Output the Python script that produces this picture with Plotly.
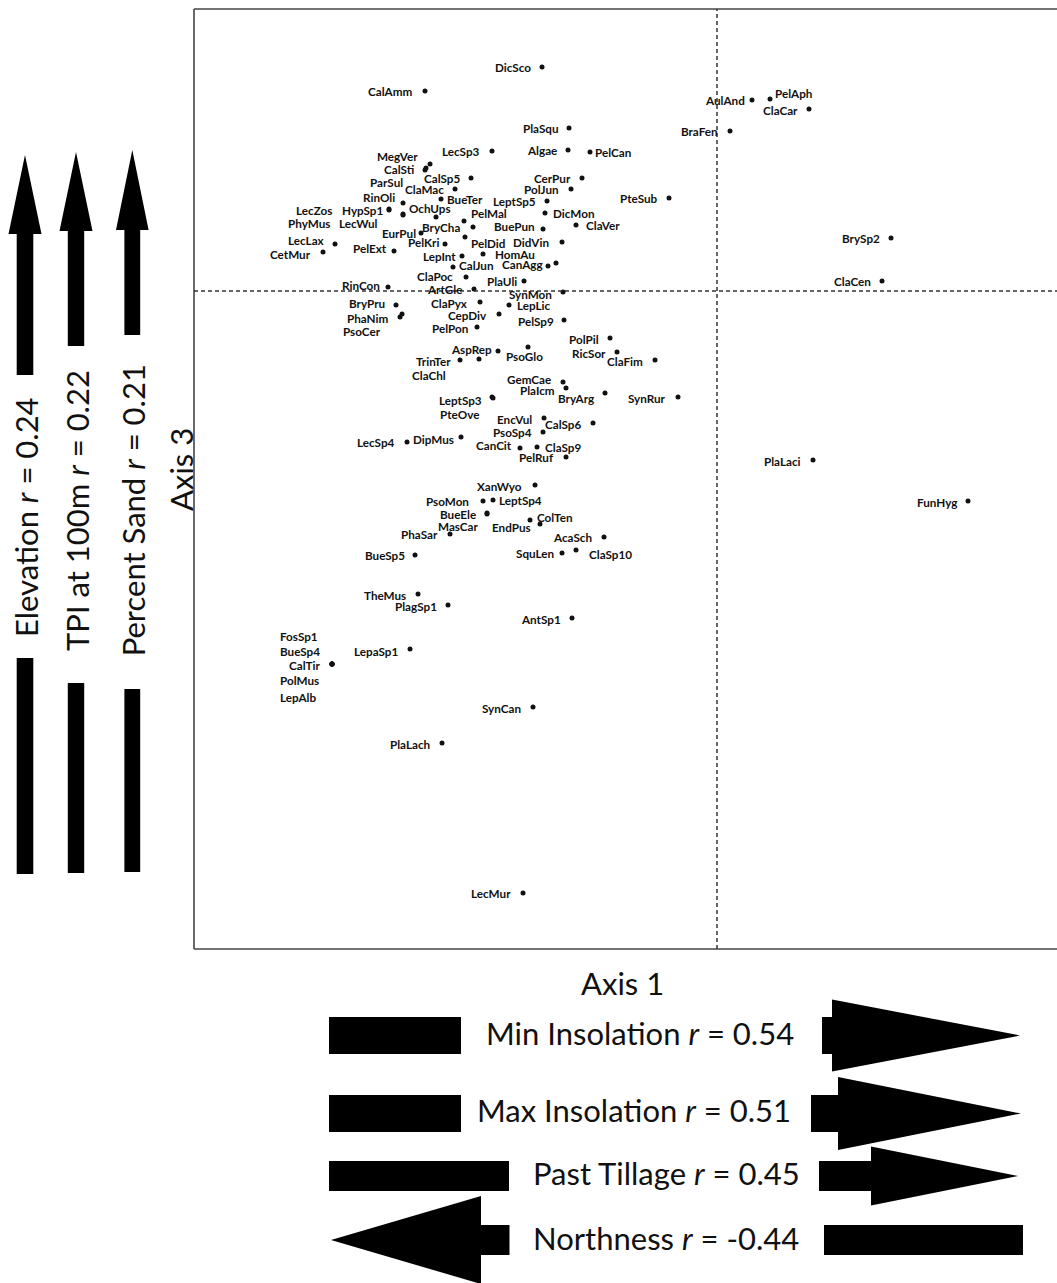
import plotly.graph_objects as go

W, H = 1057, 1283

# ---- species scores on ordination axes 1 and 3 ----
species = [
    "DicSco", "CalAmm", "PlaSqu", "LecSp3", "Algae", "PelCan", "AulAnd", "PelAph",
    "ClaCar", "BraFen", "PteSub", "BrySp2", "ClaCen", "MegVer", "CalSti", "ParSul",
    "ClaMac", "CalSp5", "BueTer", "RinOli", "OchUps", "HypSp1", "LecZos", "PhyMus",
    "LecWul", "EurPul", "BryCha", "PelMal", "PelKri", "PelDid", "CerPur", "PolJun",
    "LeptSp5", "DicMon", "ClaVer", "BuePun", "DidVin", "HomAu", "LepInt", "CalJun",
    "CanAgg", "", "LecLax", "CetMur", "PelExt", "ClaPoc", "PlaUli", "RinCon",
    "ArtGle", "SynMon", "BryPru", "PhaNim", "PsoCer", "ClaPyx", "LepLic", "CepDiv",
    "PelSp9", "PelPon", "PolPil", "AspRep", "PsoGlo", "RicSor", "ClaFim", "TrinTer",
    "ClaChl", "GemCae", "PlaIcm", "BryArg", "SynRur", "LeptSp3", "PteOve", "EncVul",
    "CalSp6", "PsoSp4", "LecSp4", "DipMus", "CanCit", "ClaSp9", "PelRuf", "XanWyo",
    "PsoMon", "LeptSp4", "BueEle", "MasCar", "ColTen", "EndPus", "PhaSar", "AcaSch",
    "SquLen", "ClaSp10", "BueSp5", "TheMus", "PlagSp1", "AntSp1", "LepaSp1", "CalTir",
    "FosSp1", "BueSp4", "PolMus", "LepAlb", "SynCan", "PlaLach", "LecMur", "PlaLaci",
    "FunHyg",
]
axis1 = [
    -1.75, -2.92, -1.48, -2.25, -1.49, -1.27, 0.35, 0.53,
    0.92, 0.13, -0.48, 1.74, 1.65, -2.87, -2.91, -2.92,
    -2.62, -2.46, -2.76, -3.14, -3.14, -3.28, -3.28, -3.14,
    -2.81, -2.96, -2.44, -2.53, -2.72, -2.52, -1.35, -1.46,
    -1.70, -1.72, -1.41, -1.74, -1.55, -2.34, -2.55, -2.64,
    -1.69, -1.61, -3.82, -3.94, -3.23, -2.51, -1.93, -3.29,
    -2.43, -1.54, -3.21, -3.15, -3.17, -2.37, -2.08, -2.18,
    -1.53, -2.40, -1.07, -2.19, -1.89, -1.00, -0.62, -2.57,
    -2.38, -1.54, -1.51, -1.12, -0.39, -2.25, -2.24, -1.73,
    -1.24, -1.74, -3.10, -2.56, -1.97, -1.80, -1.51, -1.82,
    -2.34, -2.24, -2.30, -2.30, -1.87, -1.77, -2.67, -1.13,
    -1.55, -1.41, -3.02, -2.99, -2.69, -1.45, -3.07, -3.85,
    -3.85, -3.85, -3.85, -3.85, -1.84, -2.75, -1.94, 0.96,
    2.51,
]
axis3 = [
    2.24, 2.00, 1.63, 1.40, 1.41, 1.39, 1.91, 1.92,
    1.82, 1.60, 0.93, 0.53, 0.10, 1.27, 1.23, 1.21,
    1.02, 1.13, 0.92, 0.88, 0.77, 0.82, 0.81, 0.76,
    0.74, 0.58, 0.64, 0.70, 0.47, 0.54, 1.13, 1.02,
    0.90, 0.78, 0.66, 0.62, 0.49, 0.37, 0.35, 0.24,
    0.25, 0.28, 0.47, 0.39, 0.40, 0.14, 0.10, 0.04,
    0.02, -0.01, -0.14, -0.23, -0.26, -0.11, -0.14, -0.23,
    -0.29, -0.36, -0.47, -0.60, -0.56, -0.61, -0.69, -0.69,
    -0.68, -0.91, -0.97, -1.02, -1.06, -1.06, -1.07, -1.27,
    -1.32, -1.41, -1.51, -1.46, -1.57, -1.56, -1.66, -1.94,
    -2.10, -2.09, -2.22, -2.23, -2.29, -2.33, -2.43, -2.46,
    -2.62, -2.59, -2.64, -3.03, -3.14, -3.27, -3.58, -3.73,
    -3.73, -3.73, -3.73, -3.73, -4.16, -4.52, -6.02, -1.69,
    -2.10,
]

# ---- environmental vectors fitted to the ordination ----
vert_vars = ["Elevation", "TPI at 100m", "Percent Sand"]
vert_r = [0.24, 0.22, 0.21]
horz_vars = ["Min Insolation", "Max Insolation", "Past Tillage", "Northness"]
horz_r = [0.54, 0.51, 0.45, -0.44]

# label placement: side of the point ('l' = text ends left of the dot,
# 'r' = text starts at the offset), x offset and downward y offset in px
label_place = {
    "DicSco": ("l", -10, 0), "CalAmm": ("l", -12, 0), "PlaSqu": ("l", -9, 0),
    "LecSp3": ("l", -11, 0), "Algae": ("l", -10, 0), "PelCan": ("r", 4, 0),
    "AulAnd": ("l", -6, 0), "PelAph": ("r", 4, -6), "ClaCar": ("l", -10, 1),
    "BraFen": ("l", -11, 0), "PteSub": ("l", -10, 0), "BrySp2": ("l", -10, 0),
    "ClaCen": ("l", -10, 0), "MegVer": ("l", -11, -8), "CalSti": ("l", -10, 1),
    "ParSul": ("l", -21, 12), "ClaMac": ("l", -10, 0), "CalSp5": ("l", -10, 0),
    "BueTer": ("r", 5, 0), "RinOli": ("l", -7, -6), "OchUps": ("r", 5, -6),
    "HypSp1": ("l", -5, 1), "LecZos": ("l", -56, 0), "PhyMus": ("l", -72, 8),
    "LecWul": ("l", -57, 6), "EurPul": ("l", -4, 0), "BryCha": ("l", -12, 0),
    "PelMal": ("r", 6, -8), "PelKri": ("l", -5, -2), "PelDid": ("r", 5, 6),
    "CerPur": ("l", -10, 0), "PolJun": ("l", -11, 0), "LeptSp5": ("l", -10, 0),
    "DicMon": ("r", 7, 0), "ClaVer": ("r", 9, 0), "BuePun": ("l", -7, -3),
    "DidVin": ("l", -12, 0), "HomAu": ("r", 11, 0), "LepInt": ("l", -5, 0),
    "CalJun": ("r", 5, -2), "CanAgg": ("l", -4, -2), "LecLax": ("l", -9, -4),
    "CetMur": ("l", -11, 2), "PelExt": ("l", -6, -3), "ClaPoc": ("l", -12, -1),
    "PlaUli": ("l", -6, 0), "RinCon": ("l", -7, -2), "ArtGle": ("l", -11, 0),
    "SynMon": ("l", -10, 2), "BryPru": ("l", -10, -2), "PhaNim": ("l", -12, 4),
    "PsoCer": ("l", -18, 14), "ClaPyx": ("l", -11, 1), "LepLic": ("r", 7, 0),
    "CepDiv": ("l", -11, 1), "PelSp9": ("l", -9, 1), "PelPon": ("l", -8, 1),
    "PolPil": ("l", -10, 1), "AspRep": ("l", -5, -2), "PsoGlo": ("r", -23, 9),
    "RicSor": ("l", -10, 1), "ClaFim": ("l", -11, 1), "TrinTer": ("l", -8, 1),
    "ClaChl": ("l", -32, 16), "GemCae": ("l", -11, -3), "PlaIcm": ("l", -10, 2),
    "BryArg": ("r", -48, 5), "SynRur": ("l", -11, 1), "LeptSp3": ("l", -9, 3),
    "PteOve": ("l", -13, 16), "EncVul": ("l", -11, 1), "CalSp6": ("l", -11, 1),
    "PsoSp4": ("l", -10, 0), "LecSp4": ("l", -11, 0), "DipMus": ("l", -6, 2),
    "CanCit": ("l", -7, -3), "ClaSp9": ("r", 7, 0), "PelRuf": ("l", -11, 0),
    "XanWyo": ("l", -12, 1), "PsoMon": ("l", -13, 0), "LeptSp4": ("r", 5, 0),
    "BueEle": ("l", -10, 1), "MasCar": ("l", -7, 12), "ColTen": ("r", 6, -3),
    "EndPus": ("l", -8, 3), "PhaSar": ("l", -11, 0), "AcaSch": ("l", -11, 0),
    "SquLen": ("l", -7, 0), "ClaSp10": ("r", 12, 4), "BueSp5": ("l", -9, 0),
    "TheMus": ("l", -11, 1), "PlagSp1": ("l", -10, 1), "AntSp1": ("l", -10, 1),
    "LepaSp1": ("l", -11, 2), "CalTir": ("l", -11, 1), "FosSp1": ("r", -53, -28),
    "BueSp4": ("r", -53, -13), "PolMus": ("r", -53, 16), "LepAlb": ("r", -53, 33),
    "SynCan": ("l", -11, 1), "PlaLach": ("l", -11, 1), "LecMur": ("l", -11, 0),
    "PlaLaci": ("l", -11, 1), "FunHyg": ("l", -10, 1),
}

LABEL_FONT = dict(family="Lato", size=11.7, color="#111111", weight="bold")
BIG_FONT = dict(family="Lato", size=31, color="#111111")

# plot frame in pixels
PX_L, PX_T, PX_B = 194, 9, 949
X_RANGE = [-5.23, 3.40]
Y_RANGE = [-6.58, 2.82]


def pap(x, y):
    return x / W, 1 - y / H


def path(points):
    return "M " + " L ".join(f"{x / W:.5f},{1 - y / H:.5f}" for x, y in points) + " Z"


fig = go.Figure()
fig.add_trace(go.Scatter(
    x=axis1, y=axis3, mode="markers",
    marker=dict(size=5, color="#111111"),
    hovertext=species, hoverinfo="text", cliponaxis=False, showlegend=False,
))

annotations = []
for name, x, y in zip(species, axis1, axis3):
    if not name:
        continue
    side, dx, dy = label_place[name]
    annotations.append(dict(
        x=x, y=y, xref="x", yref="y", text=name, showarrow=False,
        xanchor="right" if side == "l" else "left", yanchor="middle",
        xshift=dx, yshift=-dy, font=LABEL_FONT, borderpad=0,
    ))

shapes = []
# frame (left, top, bottom)
fx0, fy_top = pap(PX_L, PX_T)
_, fy_bot = pap(PX_L, PX_B)
frame = dict(color="#444444", width=1.6)
shapes += [
    dict(type="line", xref="paper", yref="paper", x0=fx0, x1=fx0, y0=fy_bot, y1=fy_top, line=frame),
    dict(type="line", xref="paper", yref="paper", x0=fx0, x1=1, y0=fy_top, y1=fy_top, line=frame),
    dict(type="line", xref="paper", yref="paper", x0=fx0, x1=1, y0=fy_bot, y1=fy_bot, line=frame),
]
# origin cross-hairs
dash = dict(color="#333333", width=1.5, dash="4px,3px")
shapes += [
    dict(type="line", xref="x", yref="y domain", x0=0, x1=0, y0=0, y1=1, line=dash),
    dict(type="line", xref="x domain", yref="y", x0=0, x1=1, y0=0, y1=0, line=dash),
]

blk = dict(fillcolor="#000000", line=dict(width=0), xref="paper", yref="paper", type="path")

# vertical vectors (axis 3): arrow on the side given by the sign of r
vert_geom = [
    # cx, tip, head base, head half-width, shaft half-width, shaft end, bar start, bar end, text y
    (25.0, 155, 234, 16.5, 8.3, 375, 658, 874, 517),
    (76.0, 152, 231, 16.5, 8.2, 346, 683, 873, 511),
    (132.3, 150, 230, 16.3, 7.9, 335, 689, 872, 510),
]
for var, r, (cx, tip, hb, hw, sw, se, b0, b1, ty) in zip(vert_vars, vert_r, vert_geom):
    if r >= 0:
        arrow = [(cx, tip), (cx + hw, hb), (cx + sw, hb), (cx + sw, se),
                 (cx - sw, se), (cx - sw, hb), (cx - hw, hb)]
        bar = [(cx - sw, b0), (cx + sw, b0), (cx + sw, b1), (cx - sw, b1)]
    else:
        arrow = [(cx, 2 * ty - tip), (cx + hw, 2 * ty - hb), (cx + sw, 2 * ty - hb),
                 (cx + sw, 2 * ty - se), (cx - sw, 2 * ty - se), (cx - sw, 2 * ty - hb),
                 (cx - hw, 2 * ty - hb)]
        bar = [(cx - sw, 2 * ty - b0), (cx + sw, 2 * ty - b0),
               (cx + sw, 2 * ty - b1), (cx - sw, 2 * ty - b1)]
    shapes.append(dict(path=path(arrow), **blk))
    shapes.append(dict(path=path(bar), **blk))
    tx, tyy = pap(cx + 1, ty)
    annotations.append(dict(
        x=tx, y=tyy, xref="paper", yref="paper", showarrow=False, textangle=-90,
        text=f"{var} <i>r</i> = {r:.2f}", font=BIG_FONT, xanchor="center", yanchor="middle",
    ))

# horizontal vectors (axis 1)
horz_geom = [
    # cy, half bar, left span, right span, head base offset, head half-height, text x, text y
    (1035.5, 18.5, (329, 461), (822, 1020), 10, 36, 640, 1033),
    (1113.5, 18.5, (329, 461), (811, 1021), 27, 36.5, 634, 1110),
    (1176, 15, (329, 509), (819, 1018), 52, 29.5, 666, 1173),
    (1240, 15, (331, 509.5), (824, 1023), 28.5, 44, 666, 1238),
]
for var, r, (cy, sh, (l0, l1), (r0, r1), hoff, hh, tx, ty) in zip(horz_vars, horz_r, horz_geom):
    if r >= 0:
        bar = [(l0, cy - sh), (l1, cy - sh), (l1, cy + sh), (l0, cy + sh)]
        hb = r0 + hoff
        arrow = [(r0, cy - sh), (hb, cy - sh), (hb, cy - hh), (r1, cy),
                 (hb, cy + hh), (hb, cy + sh), (r0, cy + sh)]
    else:
        bar = [(r0, cy - sh), (r1, cy - sh), (r1, cy + sh), (r0, cy + sh)]
        hb = l1 - hoff
        arrow = [(l0, cy), (hb, cy - hh), (hb, cy - sh), (l1, cy - sh),
                 (l1, cy + sh), (hb, cy + sh), (hb, cy + hh)]
    shapes.append(dict(path=path(bar), **blk))
    shapes.append(dict(path=path(arrow), **blk))
    px_, py_ = pap(tx, ty)
    annotations.append(dict(
        x=px_, y=py_, xref="paper", yref="paper", showarrow=False,
        text=f"{var} <i>r</i> = {r:.2f}", font=BIG_FONT, xanchor="center", yanchor="middle",
    ))

# axis titles
ax1x, ax1y = pap(622, 983)
ax3x, ax3y = pap(181, 470)
annotations += [
    dict(x=ax1x, y=ax1y, xref="paper", yref="paper", text="Axis 1", showarrow=False,
         font=BIG_FONT, xanchor="center", yanchor="middle"),
    dict(x=ax3x, y=ax3y, xref="paper", yref="paper", text="Axis 3", showarrow=False,
         font=BIG_FONT, xanchor="center", yanchor="middle", textangle=-90),
]

axis_common = dict(showgrid=False, zeroline=False, showticklabels=False, ticks="",
                   showline=False, fixedrange=True)
fig.update_layout(
    width=W, height=H, autosize=False,
    margin=dict(l=0, r=0, t=0, b=0, pad=0),
    paper_bgcolor="white", plot_bgcolor="rgba(0,0,0,0)",
    xaxis=dict(domain=[PX_L / W, 1.0], range=X_RANGE, **axis_common),
    yaxis=dict(domain=[1 - PX_B / H, 1 - PX_T / H], range=Y_RANGE, **axis_common),
    shapes=shapes, annotations=annotations, showlegend=False,
)

fig.write_html("out.html")
